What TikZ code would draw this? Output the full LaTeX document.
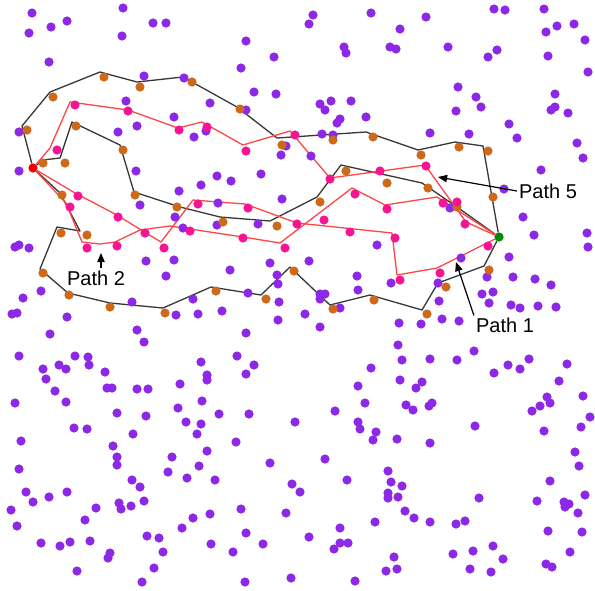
\documentclass[tikz,border=0pt]{standalone}
\usepackage{fontspec}
\setmainfont{Liberation Sans}
\usepackage{xcolor}
\usetikzlibrary{arrows.meta,backgrounds}

\definecolor{dotpurple}{RGB}{140,40,230}
\definecolor{dotorange}{RGB}{205,105,25}
\definecolor{dotpink}{RGB}{245,20,145}
\definecolor{linered}{RGB}{255,70,70}
\definecolor{linegray}{RGB}{55,55,55}
\definecolor{startred}{RGB}{240,0,0}
\definecolor{endgreen}{RGB}{0,140,0}

\begin{document}
\begin{tikzpicture}[x=1pt,y=-1pt,
    dot/.style={circle,inner sep=0pt,minimum size=9.2pt},
    blk/.style={draw=linegray,line width=1.3pt,line join=round},
    rd/.style={draw=linered,line width=1.3pt,line join=round},
    lbl/.style={font=\fontsize{20}{24}\selectfont,inner sep=2pt},
    arr/.style={-{Triangle[length=3.2mm,width=2.6mm]},line width=1.2pt}
  ]
  \useasboundingbox (0,0) rectangle (595,590);

  \foreach \px/\py in {32/13,67/21,51/27,29/33,123/8,153/23,166/23,122/36,49/62,
      144/76,184/78,126/101,174/117,137/126,118/132,194/137,19/132,19/171,136/171,
      179/191,201/185,140/205,
      313/15,309/24,371/13,246/41,274/57,241/68,344/47,346/53,390/47,396/49,254/92,
      276/94,210/103,320/104,331/101,351/101,325/110,340/119,337/123,366/117,246/110,
      322/134,333/135,286/146,281/155,311/156,206/131,217/176,231/181,261/174,
      282/199,218/203,
      426/17,400/29,448/47,494/9,505/10,544/9,557/26,546/32,574/24,585/40,497/50,
      488/57,548/56,588/72,458/87,476/97,481/107,456/111,555/94,555/107,551/110,
      568/113,509/124,517/138,430/133,469/134,577/143,583/158,541/170,504/189,
      175/217,183/228,15/247,19/245,29/248,146/261,174/260,166/276,41/291,23/298,
      193/299,132/302,176/315,12/314,17/313,67/317,50/334,137/330,144/342,19/356,
      75/356,88/357,89/365,59/365,66/369,43/369,105/372,46/379,180/384,107/388,
      112/388,137/389,148/389,55/391,
      217/225,258/224,377/245,230/270,270/263,309/261,277/275,278/284,357/276,
      358/290,391/283,248/293,320/294,325/294,320/299,340/308,198/314,222/311,
      279/302,305/314,278/320,320/327,246/333,399/323,398/345,201/362,237/356,
      254/365,246/374,207/375,207/380,371/368,400/380,358/386,
      450/208,523/217,534/235,587/233,588/247,509/257,461/258,487/277,513/277,
      535/279,551/285,438/283,482/294,493/292,489/303,511/305,520/308,538/306,
      556/307,439/301,442/319,459/321,421/324,474/351,430/359,457/360,402/360,
      529/359,508/365,520/369,567/364,494/373,422/382,559/381,416/388,
      15/403,66/402,117/413,146/416,178/408,186/422,197/434,201/424,74/428,87/429,
      133/434,21/441,113/446,117/457,117/465,172/457,168/472,199/466,187/478,19/469,
      132/480,140/487,26/492,33/502,49/497,67/492,119/503,121/509,131/506,144/501,
      96/508,11/510,85/520,17/526,193/518,182/528,147/536,159/538,163/552,41/543,
      60/546,70/542,90/541,110/553,108/558,154/568,77/571,142/582,
      202/401,219/414,249/414,295/422,335/411,365/403,358/422,360/429,376/432,
      373/440,397/439,236/442,207/451,270/463,325/459,215/480,292/484,300/492,
      347/480,388/471,391/482,388/493,388/498,398/497,241/509,210/514,286/513,
      375/522,246/533,340/528,309/537,211/544,263/544,233/552,340/543,348/543,
      334/549,394/557,386/571,397/569,245/582,291/578,355/581,
      406/405,413/410,429/406,432/403,475/426,430/443,547/397,550/403,540/406,
      532/411,583/396,590/417,581/427,544/431,575/452,579/466,550/481,402/486,
      479/498,537/501,564/502,569/504,565/507,585/495,578/513,405/511,414/518,
      430/522,456/524,465/521,548/531,582/532,493/546,570/552,453/554,473/551,
      503/559,470/569,491/572,546/564,552/567}
    \fill[dotpurple] (\px,\py) circle[radius=4.6pt];

  \foreach \px/\py in {104/77,140/87,53/97,27/130,76/126,123/150,43/163,65/163,
      135/195,177/207,62/195,87/235,61/233,43/273,69/295,110/307,165/313,192/82,
      240/109,282/145,333/140,373/137,346/171,387/183,320/202,223/222,277/226,
      294/271,216/291,266/299,333/309,421/155,459/147,488/151,428/188,493/197,
      457/207,489/270,446/287,374/300,427/314}
    \fill[dotorange] (\px,\py) circle[radius=4.6pt];

  \foreach \px/\py in {57/150,75/105,128/111,179/130,207/127,246/151,295/135,
      330/179,380/171,426/166,443/203,457/202,465/224,488/246,440/273,400/280,
      395/238,350/232,387/209,355/194,324/220,297/224,285/248,248/208,243/238,
      198/204,190/231,164/248,145/233,118/217,117/246,87/248,78/196,70/207}
    \fill[dotpink] (\px,\py) circle[radius=4.6pt];

  \node[dot,fill=startred] (src) at (33,168) {};
  \node[dot,fill=endgreen] (dst) at (499,237) {};

  \begin{scope}[on background layer]
    \fill[white] (0,0) rectangle (595,590);
    \draw[blk] (src) -- (22,126) -- (50,92) -- (100,72) -- (137,82) -- (183,77)
      -- (237,107) -- (277,138) -- (366,132) -- (418,150) -- (455,142)
      -- (483,146) -- (dst);
    \draw[blk] (src) -- (60,193) -- (80,231) -- (57,227) -- (40,269) -- (68,293)
      -- (110,303) -- (163,308) -- (211,287) -- (261,295) -- (290,267)
      -- (330,305) -- (370,295) -- (422,310) -- (438,283) -- (484,266) -- (dst);
    \draw[blk] (src) -- (43,160) -- (60,158) -- (72,122) -- (120,145) -- (134,192)
      -- (180,207) -- (220,217) -- (270,221) -- (317,197) -- (341,165)
      -- (422,183) -- (457,207) -- (dst);
    \draw[rd] (src) -- (50,148) -- (70,102) -- (128,110) -- (178,128) -- (202,122)
      -- (243,145) -- (290,131) -- (330,178) -- (425,165) -- (466,222) -- (dst);
    \draw[rd] (src) -- (66,203) -- (82,242) -- (100,244) -- (115,242) -- (140,230)
      -- (170,226) -- (243,237) -- (280,243) -- (352,188) -- (385,205)
      -- (437,197) -- (dst);
    \draw[rd] (src) -- (75,193) -- (115,214) -- (161,242) -- (193,200) -- (245,204)
      -- (297,223) -- (392,233) -- (397,275) -- (437,268) -- (dst);
  \end{scope}

  \node[lbl] (p5) at (548,191) {Path 5};
  \node[lbl] (p1) at (505,325) {Path 1};
  \node[lbl] (p2) at (96,278) {Path 2};
  \coordinate (p5tip) at (438,177);
  \coordinate (p1tip) at (456,262);
  \coordinate (p2tip) at (101,253);

  \draw[arr] (p5.west) -- (p5tip);
  \draw[arr] (p1.north west) -- (p1tip);
  \draw[arr] ([xshift=5pt]p2.north) -- (p2tip);
\end{tikzpicture}
\end{document}
